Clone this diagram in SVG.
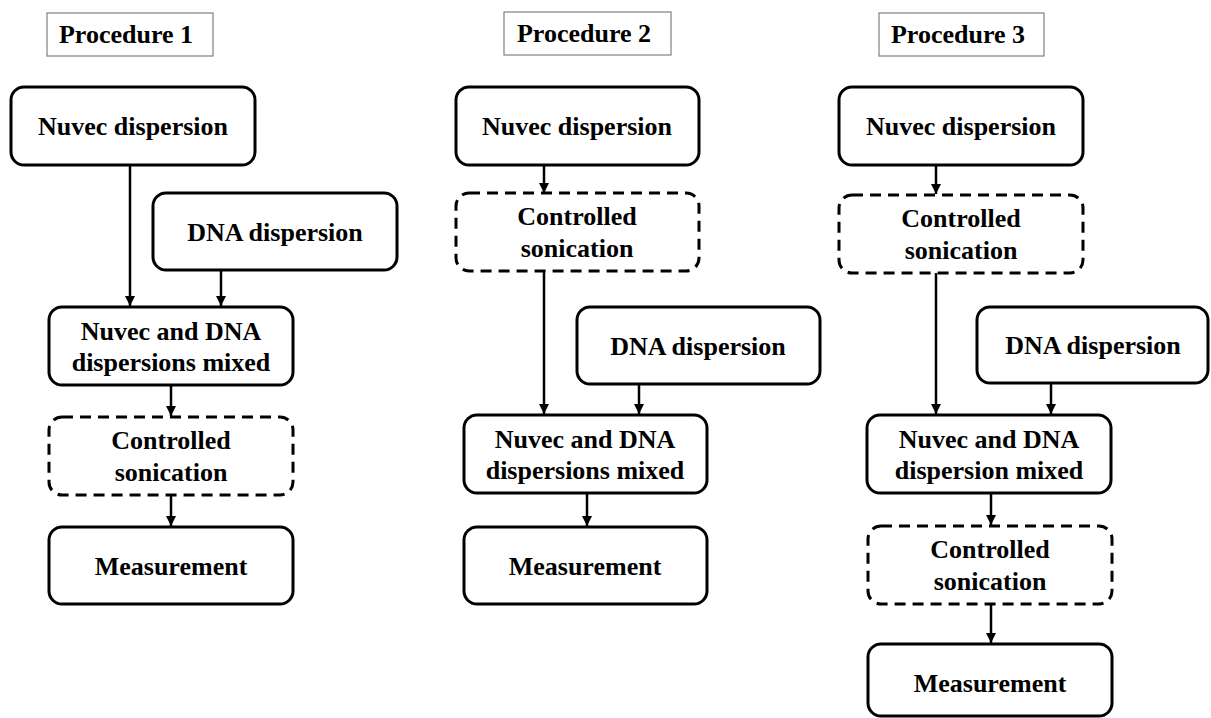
<svg xmlns="http://www.w3.org/2000/svg" width="1211" height="718" viewBox="0 0 1211 718">
<style>
text{font-family:"Liberation Serif","Times New Roman",serif;font-weight:bold;font-size:26px;fill:#000;text-anchor:middle}
.box{fill:#fff;stroke:#000;stroke-width:3}
.dash{fill:#fff;stroke:#000;stroke-width:3;stroke-dasharray:11 7}
.title{fill:#fff;stroke:#808080;stroke-width:1.2}
.con{fill:none;stroke:#000;stroke-width:2.5;marker-end:url(#ah)}
</style>
<defs>
<marker id="ah" viewBox="0 0 10 10" refX="10" refY="5" markerWidth="4" markerHeight="4" orient="auto" markerUnits="strokeWidth">
<path d="M0,0 L10,5 L0,10 Z" fill="#000"/>
</marker>
</defs>
<rect width="1211" height="718" fill="#fff"/>

<g id="connectors">
<path class="con" d="M130,165 V306"/>
<path class="con" d="M221,270 V306"/>
<path class="con" d="M171,385 V416"/>
<path class="con" d="M171,495 V526"/>

<path class="con" d="M544,165 V193"/>
<path class="con" d="M544,271 V414"/>
<path class="con" d="M639,384 V414"/>
<path class="con" d="M587,493 V526"/>

<path class="con" d="M936,165 V194"/>
<path class="con" d="M936,273 V414"/>
<path class="con" d="M1051,383 V414"/>
<path class="con" d="M991,493 V525"/>
<path class="con" d="M991,604 V643"/>
</g>

<g id="title1"><rect class="title" x="47" y="13" width="166" height="43"/><text x="126" y="43">Procedure 1</text></g>
<g id="title2"><rect class="title" x="504" y="12" width="167" height="43"/><text x="584" y="42">Procedure 2</text></g>
<g id="title3"><rect class="title" x="879" y="13" width="165" height="43"/><text x="958" y="43">Procedure 3</text></g>

<g id="p1-nuvec"><rect class="box" x="11" y="87" width="244" height="78" rx="13"/><text x="133" y="135">Nuvec dispersion</text></g>
<g id="p1-dna"><rect class="box" x="153" y="193" width="244" height="77" rx="13"/><text x="275" y="241">DNA dispersion</text></g>
<g id="p1-mixed"><rect class="box" x="49" y="307" width="244" height="78" rx="13"/><text x="171" y="340">Nuvec and DNA</text><text x="171" y="371">dispersions mixed</text></g>
<g id="p1-sonic"><rect class="dash" x="49" y="417" width="244" height="78" rx="13"/><text x="171" y="449">Controlled</text><text x="171" y="481">sonication</text></g>
<g id="p1-meas"><rect class="box" x="49" y="527" width="244" height="77" rx="13"/><text x="171" y="575">Measurement</text></g>

<g id="p2-nuvec"><rect class="box" x="456" y="87" width="243" height="78" rx="13"/><text x="577" y="135">Nuvec dispersion</text></g>
<g id="p2-sonic"><rect class="dash" x="456" y="193" width="243" height="78" rx="13"/><text x="577" y="225">Controlled</text><text x="577" y="257">sonication</text></g>
<g id="p2-dna"><rect class="box" x="577" y="307" width="243" height="77" rx="13"/><text x="698" y="355">DNA dispersion</text></g>
<g id="p2-mixed"><rect class="box" x="464" y="415" width="243" height="78" rx="13"/><text x="585" y="448">Nuvec and DNA</text><text x="585" y="479">dispersions mixed</text></g>
<g id="p2-meas"><rect class="box" x="464" y="527" width="243" height="77" rx="13"/><text x="585" y="575">Measurement</text></g>

<g id="p3-nuvec"><rect class="box" x="839" y="87" width="244" height="78" rx="13"/><text x="961" y="135">Nuvec dispersion</text></g>
<g id="p3-sonic"><rect class="dash" x="839" y="195" width="244" height="78" rx="13"/><text x="961" y="227">Controlled</text><text x="961" y="259">sonication</text></g>
<g id="p3-dna"><rect class="box" x="977" y="307" width="231" height="76" rx="13"/><text x="1093" y="354">DNA dispersion</text></g>
<g id="p3-mixed"><rect class="box" x="867" y="415" width="244" height="78" rx="13"/><text x="989" y="448">Nuvec and DNA</text><text x="989" y="479">dispersion mixed</text></g>
<g id="p3-sonic2"><rect class="dash" x="868" y="526" width="244" height="78" rx="13"/><text x="990" y="558">Controlled</text><text x="990" y="590">sonication</text></g>
<g id="p3-meas"><rect class="box" x="868" y="644" width="244" height="72" rx="13"/><text x="990" y="692">Measurement</text></g>
</svg>
